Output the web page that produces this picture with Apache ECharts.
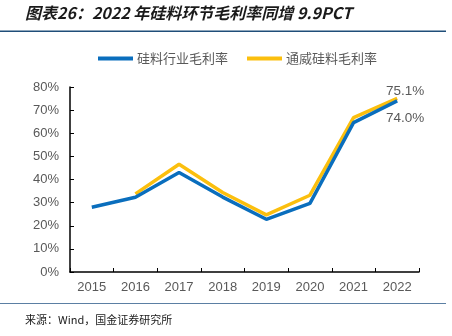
<!DOCTYPE html>
<html><head><meta charset="utf-8">
<script src="https://cdn.jsdelivr.net/npm/echarts@6/dist/echarts.min.js"></script>
<style>html,body{margin:0;padding:0;background:#fff}#c{width:452px;height:336px}</style>
</head><body><div id="c"></div>
<script>
var years = ['2015','2016','2017','2018','2019','2020','2021','2022'];
var industryMargin = [28.0, 32.3, 43.0, 32.4, 22.8, 29.7, 64.6, 74.0];
var tongweiMargin = [null, 33.8, 46.6, 34.4, 24.7, 33.2, 66.8, 75.1];
var yTicks = [0, 10, 20, 30, 40, 50, 60, 70, 80];
var seriesNames = ['硅料行业毛利率', '通威硅料毛利率'];
var titleText = '图表26：2022 年硅料环节毛利率同增 9.9PCT';
var sourceText = '来源：Wind，国金证券研究所';

var chart = echarts.init(document.getElementById('c'));
var lastIdx = years.length - 1;
function labelled(arr, pos, off) {
  return arr.map(function (v, i) {
    if (i === lastIdx) {
      return { value: v, label: { show: true, position: pos, offset: off,
        formatter: function (p) { return p.value.toFixed(1) + '%'; },
        color: '#595959', fontSize: 13.5, fontFamily: 'Liberation Sans' } };
    }
    return v;
  });
}
chart.setOption({
  animation: false,
  textStyle: { fontFamily: 'Liberation Sans' },
  grid: { left: 70, right: 33, top: 87, bottom: 64 },
  legend: {
    left: 93, top: 47, itemWidth: 35, itemHeight: 4, itemGap: 19,
    icon: 'rect',
    textStyle: { color: '#595959', fontSize: 13, fontFamily: 'Noto Sans CJK SC', padding: [0, 0, 0, -1] },
    data: seriesNames
  },
  xAxis: {
    type: 'category', data: years, boundaryGap: true,
    axisLine: { lineStyle: { color: '#000', width: 1.5 } },
    axisTick: { show: true, length: 4, inside: true, alignWithLabel: false, lineStyle: { color: '#000' } },
    axisLabel: { color: '#595959', fontSize: 13, margin: 9 }
  },
  yAxis: {
    type: 'value', min: yTicks[0], max: yTicks[yTicks.length - 1], interval: 10,
    axisLine: { show: true, lineStyle: { color: '#000', width: 1.5 } },
    axisTick: { show: true, length: 4, inside: true, lineStyle: { color: '#000' } },
    splitLine: { show: false },
    axisLabel: { color: '#595959', fontSize: 13, margin: 11, formatter: '{value}%' }
  },
  series: [
    { name: seriesNames[0], type: 'line', data: labelled(industryMargin, 'bottom', [8, 5]),
      symbol: 'circle', symbolSize: 0, showSymbol: true, lineStyle: { color: '#0a6ebd', width: 3.5 }, itemStyle: { color: '#0a6ebd' }, z: 3 },
    { name: seriesNames[1], type: 'line', data: labelled(tongweiMargin, 'top', [8, 5]),
      symbol: 'circle', symbolSize: 0, showSymbol: true, connectNulls: false, lineStyle: { color: '#fbbf0e', width: 3.5 }, itemStyle: { color: '#fbbf0e' }, z: 2 }
  ],
  graphic: [
    { type: 'text', left: 25, top: 5, style: { text: titleText, fontSize: 16, fontWeight: 'bold', fontStyle: 'italic',
      fontFamily: 'Noto Sans CJK SC', fill: '#1a1a1a' } },
    { type: 'rect', shape: { x: 0, y: 30.5, width: 446, height: 1.5 }, style: { fill: '#1f4e79' } },
    { type: 'rect', shape: { x: 0, y: 303, width: 446, height: 1 }, style: { fill: '#5b7fa3' } },
    { type: 'text', left: 25, top: 314, style: { text: sourceText, fontSize: 11, fontFamily: 'Noto Sans CJK SC', fill: '#1a1a1a' } }
  ]
});
</script></body></html>
